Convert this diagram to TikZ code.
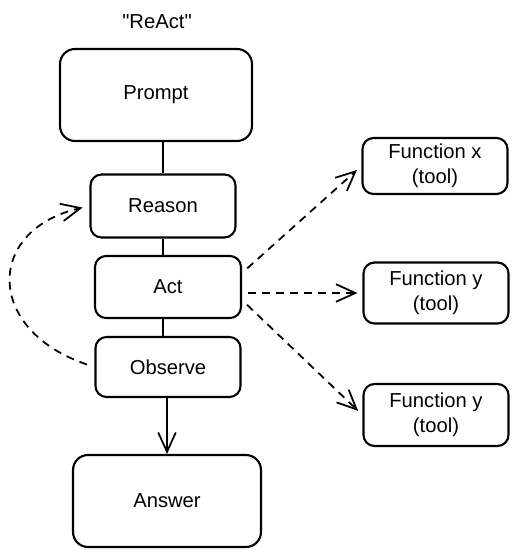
\documentclass[tikz,border=0pt]{standalone}
\usepackage{fontspec}
\setmainfont{Liberation Sans}
\newfontfamily\plainfont{Liberation Sans}
\usetikzlibrary{arrows.meta}

\begin{document}
\begin{tikzpicture}[x=0.02cm, y=-0.02cm, line width=1pt,
	>={Straight Barb[length=11pt, width=10pt]},
	bigbox/.style={font=\fontsize{11.5}{14}\selectfont, draw, line width=1.2pt, rounded corners=0.3cm, minimum width=3.8cm, minimum height=1.84cm, inner sep=0, align=center},
	smallbox/.style={font=\fontsize{11.5}{14}\selectfont, draw, line width=1.2pt, rounded corners=0.22cm, minimum width=2.9cm, minimum height=1.22cm, inner sep=0, align=center},
	dashline/.style={dash pattern=on 4.5pt off 3.5pt}
]
\useasboundingbox (0,0) rectangle (519,557);

\node[font=\plainfont\fontsize{11.5}{14}\selectfont] (title) at (157,22) {"ReAct"};

\node[bigbox, minimum width=3.84cm] (prompt) at (156,95) {Prompt};
\node[smallbox, minimum height=1.26cm] (reason) at (163,206) {Reason};
\node[smallbox, minimum width=2.92cm, minimum height=1.24cm] (act) at (168,287) {Act};
\node[smallbox, minimum height=1.2cm] (observe) at (168,367) {Observe};
\node[bigbox, minimum width=3.76cm] (answer) at (167,501) {Answer};

\node[smallbox, minimum height=1.12cm] (fnx) at (435,166) {Function x\\(tool)};
\node[smallbox] (fny) at (436,293) {Function y\\(tool)};
\node[smallbox, minimum height=1.24cm] (fnz) at (436,415) {Function y\\(tool)};

\draw (prompt.south -| reason.north) -- (reason.north);
\draw (reason.south) -- (reason.south |- act.north);
\draw (act.south -| reason.south) -- (reason.south |- observe.north);
\draw[->] (observe.south -| answer.north) -- (answer.north);

\draw[dashline, ->, shorten <=0.14cm, shorten >=0.12cm] ([yshift=0.28cm]act.east) -- (fnx.west);
\draw[dashline, ->, shorten <=0.12cm, shorten >=0.1cm] (act.east |- fny.west) -- (fny.west);
\draw[dashline, ->, shorten <=0.14cm, shorten >=0.12cm] ([yshift=-0.26cm]act.east) -- (fnz.west);

\draw[dashline, ->, shorten <=0.16cm, shorten >=0.14cm] (observe.west) .. controls (-15,330) and (-15,230) .. (reason.west);
\end{tikzpicture}
\end{document}
